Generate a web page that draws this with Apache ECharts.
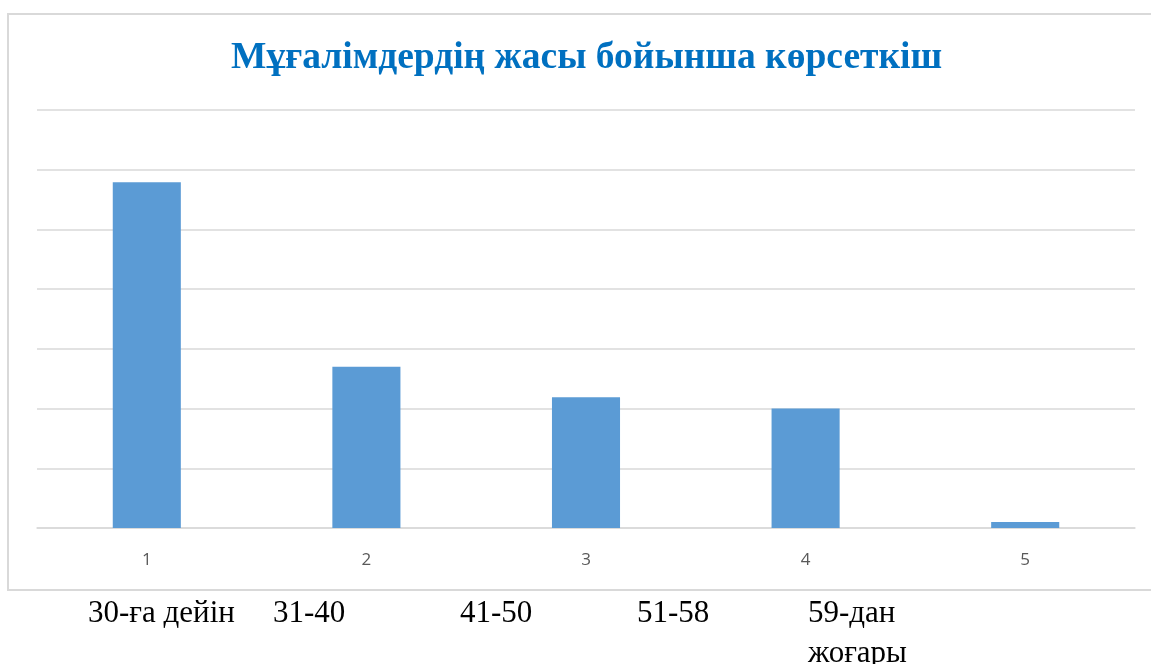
<!DOCTYPE html>
<html>
<head>
<meta charset="utf-8">
<script src="https://cdn.jsdelivr.net/npm/echarts@6/dist/echarts.min.js"></script>
<style>
  html, body { margin: 0; padding: 0; background: #fff; }
  #chart { width: 1151px; height: 664px; }
</style>
</head>
<body>
<div id="chart"></div>
<script>
// chart data
const titleText = 'Мұғалімдердің жасы бойынша көрсеткіш'
const categories = ['1', '2', '3', '4', '5']
const values = [5.79, 2.7, 2.19, 2.0, 0.1]
const ageGroups = ['30-ға дейін', '31-40', '41-50', '51-58', '59-дан\nжоғары']
const ageGroupX = [88, 273, 460, 637, 808]

const chart = echarts.init(document.getElementById('chart'))

const serif = '"Liberation Serif", "Times New Roman", serif'

const options = {
  animation: false,
  backgroundColor: '#fff',
  title: {
    text: titleText,
    left: 226,
    top: 34,
    textStyle: {
      fontFamily: serif,
      fontWeight: 'bold',
      fontSize: 37.5,
      color: '#0070C0'
    }
  },
  grid: {
    left: 37,
    right: 16,
    top: 110,
    bottom: 136
  },
  xAxis: {
    type: 'category',
    data: categories,
    axisLine: { lineStyle: { color: '#d9d9d9', width: 1.5 } },
    axisTick: { show: false },
    axisLabel: {
      color: '#595959',
      fontSize: 17,
      fontFamily: '"Open Sans", sans-serif',
      margin: 24
    }
  },
  yAxis: {
    type: 'value',
    min: 0,
    max: 7,
    interval: 1,
    axisLabel: { show: false },
    axisLine: { show: false },
    axisTick: { show: false },
    splitLine: { lineStyle: { color: '#d9d9d9', width: 1.5 } }
  },
  series: [
    {
      type: 'bar',
      data: values,
      barWidth: '31%',
      itemStyle: { color: '#5B9BD5' }
    }
  ],
  graphic: [
    {
      type: 'rect',
      shape: { x: 8, y: 14, width: 1200, height: 576 },
      style: { fill: 'none', stroke: '#d9d9d9', lineWidth: 2 },
      silent: true
    }
  ].concat(ageGroups.map((t, i) => ({
    type: 'text',
    left: ageGroupX[i],
    top: 594,
    style: {
      text: t,
      font: '31px ' + serif,
      fill: '#000',
      lineHeight: 40
    }
  })))
}

chart.setOption(options)
window.addEventListener('resize', () => chart.resize())
</script>
</body>
</html>
